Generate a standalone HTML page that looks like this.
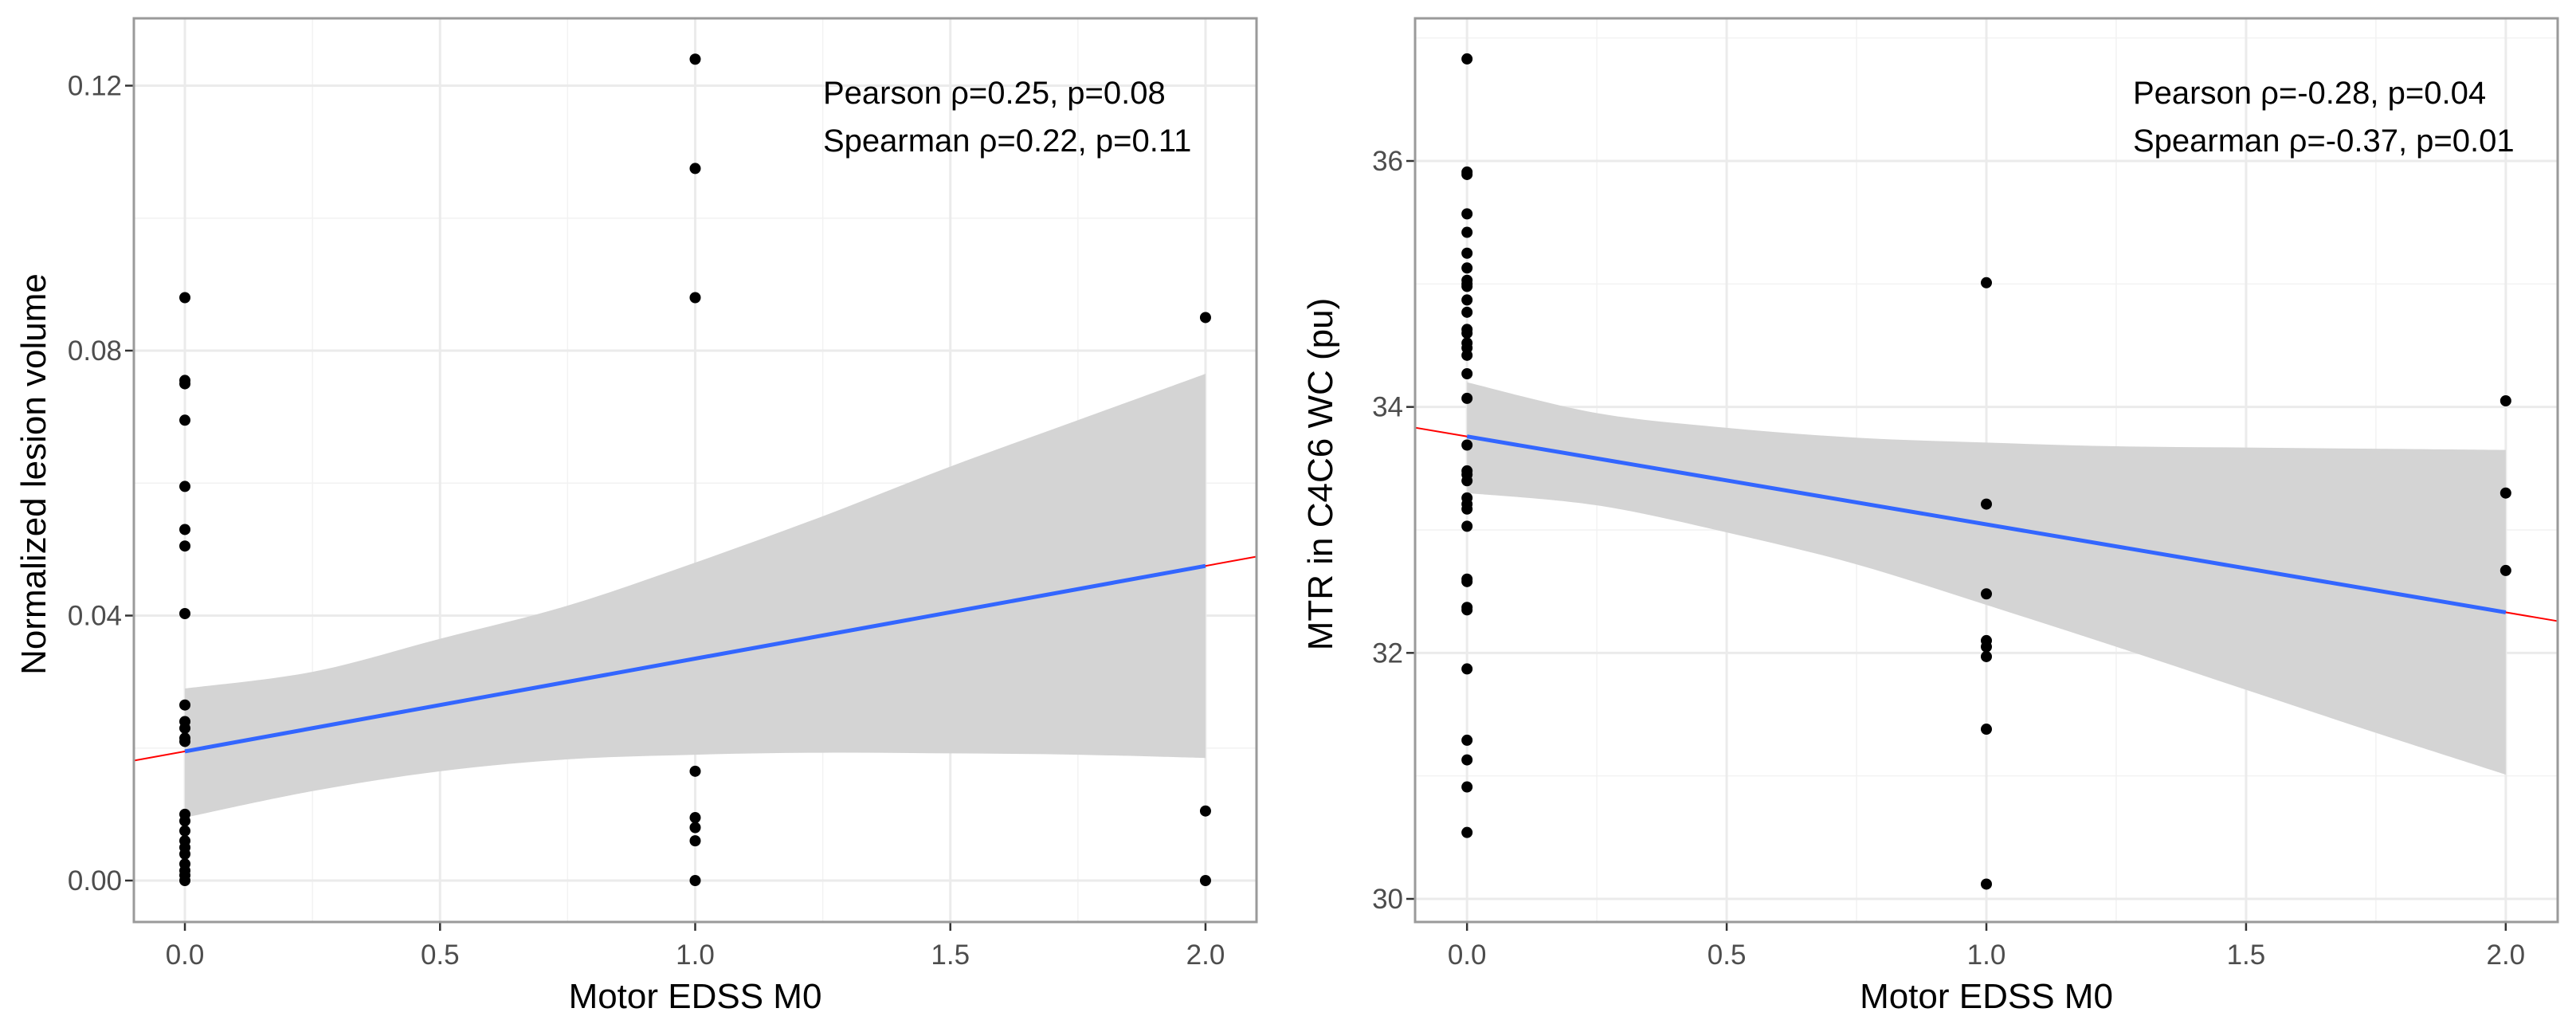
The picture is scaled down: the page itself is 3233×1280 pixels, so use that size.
<!DOCTYPE html>
<html><head><meta charset="utf-8"><style>
body{margin:0;background:#fff;}
svg{display:block;font-family:"Liberation Sans",sans-serif;}
</style></head><body>
<svg id="chart" width="3233" height="1280" viewBox="0 0 3233 1280" xmlns="http://www.w3.org/2000/svg"></svg>
<script>
// Left panel data
const leftX = [0,0,0,0,0,0,0,0,0,0,0,0,0,0,0,0,0,0,0,0,0,0,0, 1,1,1,1,1,1,1,1, 2,2,2];
const leftY = [0.088,0.0755,0.075,0.0695,0.0595,0.053,0.0505,0.0403,0.0265,0.024,0.023,0.0215,0.021,0.010,0.009,0.0075,0.006,0.005,0.004,0.0025,0.0015,0.0008,0.0,
  0.124,0.1075,0.088,0.0165,0.0095,0.008,0.006,0.0, 0.085,0.0105,0.0];
const leftFit = [0.0195, 0.0475]; // at x=0, x=2
const leftRibbonX = [0,0.25,0.5,0.75,1,1.25,1.5,1.75,2];
const leftRibbonLo = [0.0095,0.0135,0.0165,0.0183,0.019,0.0193,0.0192,0.019,0.0185];
const leftRibbonHi = [0.029,0.0315,0.0365,0.0415,0.048,0.055,0.0625,0.0695,0.0765];
const leftYTicks = [0,0.04,0.08,0.12];
const leftYTickLabels = ["0.00","0.04","0.08","0.12"];
const leftYMinor = [0.02,0.06,0.10];
// Right panel data
const rightX = [0,0,0,0,0,0,0,0,0,0,0,0,0,0,0,0,0,0,0,0,0,0,0,0,0,0,0,0,0,0,0,0,0,0,0,0, 1,1,1,1,1,1,1,1, 2,2,2];
const rightY = [36.83,35.91,35.89,35.57,35.42,35.25,35.13,35.03,35.0,34.98,34.87,34.77,34.63,34.6,34.52,34.48,34.42,34.27,34.07,33.69,33.48,33.45,33.40,33.26,33.21,33.17,33.03,32.6,32.58,32.35,31.87,31.29,31.13,30.91,30.54,32.37,
  35.01,33.21,32.48,32.1,32.05,31.97,31.38,30.12, 34.05,33.30,32.67];
const rightFit = [33.76, 32.33];
const rightRibbonX = [0,0.25,0.5,0.75,1,1.25,1.5,1.75,2];
const rightRibbonLo = [33.3,33.2,32.98,32.72,32.39,32.05,31.7,31.35,31.01];
const rightRibbonHi = [34.2,33.95,33.83,33.75,33.71,33.68,33.67,33.66,33.65];
const rightYTicks = [30,32,34,36];
const rightYTickLabels = ["30","32","34","36"];
const rightYMinor = [31,33,35,37];
const xTicks = [0,0.5,1,1.5,2];
const xTickLabels = ["0.0","0.5","1.0","1.5","2.0"];
const xMinor = [0.25,0.75,1.25,1.75];

const svg = document.getElementById('chart');
const NS = 'http://www.w3.org/2000/svg';
function mk(tag, attrs, parent){const e=document.createElementNS(NS,tag);for(const k in attrs)e.setAttribute(k,attrs[k]);(parent||svg).appendChild(e);return e;}

// Catmull-Rom smooth path through points (continuing an existing path)
function smooth(pts, start){
  let d = (start?'M':'L')+pts[0][0]+','+pts[0][1];
  for(let i=0;i<pts.length-1;i++){
    const p0=pts[i-1]||pts[i], p1=pts[i], p2=pts[i+1], p3=pts[i+2]||pts[i+1];
    const c1x=p1[0]+(p2[0]-p0[0])/6, c1y=p1[1]+(p2[1]-p0[1])/6;
    const c2x=p2[0]-(p3[0]-p1[0])/6, c2y=p2[1]-(p3[1]-p1[1])/6;
    d+='C'+c1x+','+c1y+' '+c2x+','+c2y+' '+p2[0]+','+p2[1];
  }
  return d;
}

function panel(p){
  const g = mk('g',{});
  
  
  const xs = v => p.x0 + (v - (-0.1)) / 2.2 * (p.x1 - p.x0);
  const ys = v => p.yA + (v - p.vA) * (p.yB - p.yA) / (p.vB - p.vA);
  const bg = mk('rect',{x:p.x0,y:p.y0,width:p.x1-p.x0,height:p.y1-p.y0,fill:'#fff'},g);
  
  
  p.yMinor.forEach(v=>{const l=mk('line',{x1:p.x0,x2:p.x1,y1:ys(v),y2:ys(v),stroke:'#f2f2f2','stroke-width':1.5},g);
    
    });
  xMinor.forEach(v=>{const l=mk('line',{x1:xs(v),x2:xs(v),y1:p.y0,y2:p.y1,stroke:'#f2f2f2','stroke-width':1.5},g);
    
    });
  p.yTicks.forEach((v,i)=>{const y=ys(v);
    const l=mk('line',{x1:p.x0,x2:p.x1,y1:y,y2:y,stroke:'#ebebeb','stroke-width':3},g);
    
    
    const t=mk('line',{x1:p.x0-11,x2:p.x0,y1:y,y2:y,stroke:'#333','stroke-width':2.5},g);
    
    
    const tx=mk('text',{x:p.x0-15,y:y+12,'text-anchor':'end','font-size':35,fill:'#4d4d4d'},g);
    tx.textContent=p.yLabels[i];
    
    });
  xTicks.forEach((v,i)=>{const x=xs(v);
    const l=mk('line',{x1:x,x2:x,y1:p.y0,y2:p.y1,stroke:'#ebebeb','stroke-width':3},g);
    
    
    const t=mk('line',{x1:x,x2:x,y1:p.y1,y2:p.y1+11,stroke:'#333','stroke-width':2.5},g);
    
    
    const tx=mk('text',{x:x,y:p.y1+53,'text-anchor':'middle','font-size':35,fill:'#4d4d4d'},g);
    tx.textContent=xTickLabels[i];
    
    });
  // ribbon (smoothed)
  const hiPts = p.rx.map((v,i)=>[xs(v),ys(p.rhi[i])]);
  const loPts = p.rx.map((v,i)=>[xs(v),ys(p.rlo[i])]).reverse();
  const d = smooth(hiPts,true) + smooth(loPts,false) + 'Z';
  const rib=mk('path',{d:d,fill:'#d4d4d4'},g);
  
  
  const slope=(p.fit[1]-p.fit[0])/2;
  const red=mk('line',{x1:xs(-0.1),y1:ys(p.fit[0]-0.1*slope),x2:xs(2.1),y2:ys(p.fit[0]+2.1*slope),stroke:'#ff0000','stroke-width':2},g);
  
  
  const blue=mk('line',{x1:xs(0),y1:ys(p.fit[0]),x2:xs(2),y2:ys(p.fit[1]),stroke:'#3366ff','stroke-width':5},g);
  
  
  p.px.forEach((v,i)=>{const c=mk('circle',{cx:xs(v),cy:ys(p.py[i]),r:7,fill:'#000'},g);
    
    });
  const b=mk('rect',{x:p.x0,y:p.y0,width:p.x1-p.x0,height:p.y1-p.y0,fill:'none',stroke:'#9a9a9a','stroke-width':3},g);
  
  
  p.ann.forEach((s,i)=>{const t=mk('text',{x:p.annX,y:130+i*60,'font-size':40,fill:'#000'},g);
    t.textContent=s;
    
    });
  const xt=mk('text',{x:(p.x0+p.x1)/2,y:1265,'text-anchor':'middle','font-size':44,fill:'#000'},g);
  xt.textContent='Motor EDSS M0';
  
  
  const yt=mk('text',{x:0,y:0,'text-anchor':'middle','font-size':44,fill:'#000',transform:'translate('+p.ytX+',595) rotate(-90)'},g);
  yt.textContent=p.ytitle;
  
  
}

panel({name:'lesion-volume-panel',x0:168,x1:1577,y0:23,y1:1157,yA:1105,vA:0,yB:107.5,vB:0.12,
  yTicks:leftYTicks,yLabels:leftYTickLabels,yMinor:leftYMinor,px:leftX,py:leftY,fit:leftFit,
  rx:leftRibbonX,rlo:leftRibbonLo,rhi:leftRibbonHi,annX:1033,
  ann:['Pearson ρ=0.25, p=0.08','Spearman ρ=0.22, p=0.11'],ytitle:'Normalized lesion volume',ytX:57});
panel({name:'mtr-panel',x0:1776,x1:3210,y0:23,y1:1157,yA:1128,vA:30,yB:202,vB:36,
  yTicks:rightYTicks,yLabels:rightYTickLabels,yMinor:rightYMinor,px:rightX,py:rightY,fit:rightFit,
  rx:rightRibbonX,rlo:rightRibbonLo,rhi:rightRibbonHi,annX:2677,
  ann:['Pearson ρ=-0.28, p=0.04','Spearman ρ=-0.37, p=0.01'],ytitle:'MTR in C4C6 WC (pu)',ytX:1672});
</script>
</body></html>
